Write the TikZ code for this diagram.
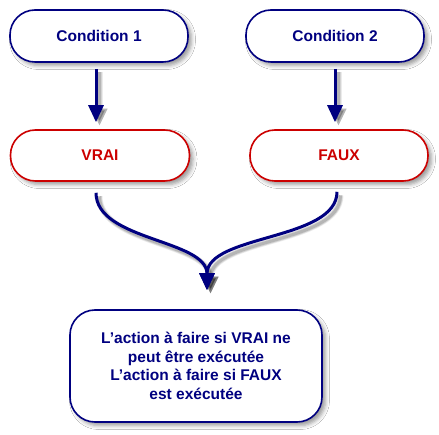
\documentclass[tikz,border=0pt]{standalone}
\usepackage{fontspec}
\setmainfont{Liberation Sans}
\usetikzlibrary{arrows.meta,shadows.blur}
\definecolor{navy}{RGB}{0,0,128}
\definecolor{dred}{RGB}{204,0,0}
\newcommand\drawarrows[1]{%
  \draw[#1] ([xshift=-3pt,yshift=-6pt]c1.south) -- ([xshift=-4pt,yshift=7pt]vrai.north);
  \draw[#1] ([yshift=-6pt]c2.south) -- ([xshift=-4pt,yshift=7pt]faux.north);
  \draw[#1] (s1) .. controls +(0,48) and +(0,-51) .. (tip);
  \draw[#1] (s2) .. controls +(0,49) and +(0,-56) .. (tip);
}
\begin{document}
\begin{tikzpicture}[x=1pt,y=-1pt,
  txt/.style={font=\fontsize{15.5}{18.5}\selectfont\bfseries, align=center},
  pill/.style={draw, line width=1.6pt, fill=white, rounded corners=25pt, minimum width=178pt, minimum height=52pt, inner sep=0pt,
    blur shadow={shadow xshift=3.5pt, shadow yshift=-3.5pt, shadow blur radius=4pt, shadow opacity=40}},
  bluebox/.style={pill, draw=navy, text=navy},
  redbox/.style={pill, draw=dred, text=dred},
  arr/.style={draw=navy, line width=3pt, -{Triangle[width=15pt,length=17pt]}},
  arrsh/.style={draw=black, line width=#1, -{Triangle[width=15pt,length=17pt]}},
]
\useasboundingbox[fill=white] (0,0) rectangle (439,435);
\node[bluebox, txt] (c1) at (99,36) {Condition 1};
\node[bluebox, txt] (c2) at (335,36) {Condition 2};
\node[redbox, txt, minimum width=179pt, minimum height=51pt] (vrai) at (100,155.5) {VRAI};
\node[redbox, txt, minimum width=178pt, minimum height=51pt] (faux) at (339,155.5) {FAUX};
\node[bluebox, txt, minimum width=252pt, minimum height=112pt] (res) at (196,366)
  {\raisebox{-4pt}{\parbox{240pt}{\centering L'action à faire si VRAI ne\\peut être exécutée\\L'action à faire si FAUX\\est exécutée}}};
\coordinate (s1) at ([xshift=-4pt,yshift=-11pt]vrai.south);
\coordinate (s2) at ([xshift=-2pt,yshift=-10pt]faux.south);
\coordinate (tip) at ([xshift=11pt,yshift=19pt]res.north);
\begin{scope}[transform canvas={shift={(3.5pt,-3.5pt)}}]
  \drawarrows{arrsh=6pt, opacity=0.08}
  \drawarrows{arrsh=4.5pt, opacity=0.10}
  \drawarrows{arrsh=3pt, opacity=0.14}
\end{scope}
\drawarrows{arr}
\end{tikzpicture}
\end{document}
